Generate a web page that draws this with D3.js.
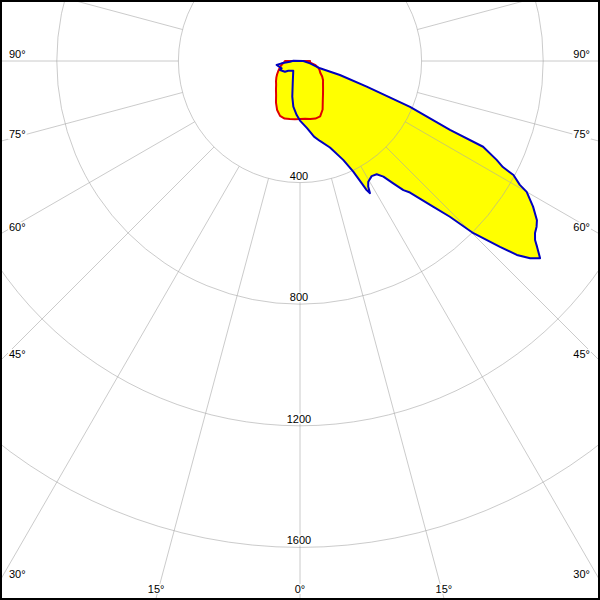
<!DOCTYPE html>
<html><head><meta charset="utf-8">
<script src="https://cdn.jsdelivr.net/npm/d3@7"></script>
<style>html,body{margin:0;padding:0;background:#fff}svg{display:block}</style>
</head><body>
<script>
// ---- data (angle from nadir in degrees, +right / -left ; intensity in cd) ----
const ringValues = [400, 800, 1200, 1600];
const angleTickLabels = [0, 15, 30, 45, 60, 75, 90];

const blueAngles = [-92.6,-86,-82.8,-80.3,-68.3,-65.8,-54.5,-50.3,-34.6,-18.1,-12.2,-8.3,-3.5,0,6.0,10.5,14.0,19.1,23.6,25.7,26.8,27.3,27.9,28.5,29.5,31.9,34.1,35.8,37.3,38.7,39.9,42.4,43.9,45.2,47.1,48.2,49.4,50.6,51.9,52.7,53.8,55.0,56.1,58.0,60.0,60.6,61.9,62.4,63.3,64.9,65.3,67.4,69.0,70.7,70.0,76.8,90];
const blueValues = [22,33,61,78,65,72,61,50,39,77,120,152,178,196,222,253,271,301,355,404,451,478,492,470,456,446,450,469,506,544,564,649,711,804,898,957,997,1022,991,972,958,950,939,904,861,830,796,753,724,665,543,392,235,139,70,34,11];

const redAngles = [-90,-85,-80,-75,-70,-65,-60,-55,-50,-45,-40,-35,-30,-25,-20,-15,-10,-5,0,5,10,15,20,25,30,35,40,45,50,55,60,65,70,75,80,85,90];
const redValues = [49,53,59,66,72,79,87,95,103,111,123,137,158,178,192,196,194,192,191,191,194,196,194,176,150,132,118,107,99,89,77,71,64,53,36,33,33];

// ---- layout ----
const W = 600, H = 600, cx = 300, cy = 61;
const r = d3.scaleLinear().domain([0, 1600]).range([0, 486.4]);
const rad = d => d * Math.PI / 180;

const svg = d3.select("body").append("svg").attr("width", W).attr("height", H)
  .style("font-family", "'Liberation Sans', Arial, sans-serif").style("font-size", "11px");
svg.append("defs").append("clipPath").attr("id", "clip")
  .append("rect").attr("x", 0).attr("y", 0).attr("width", W).attr("height", H - 2);
svg.append("rect").attr("width", W).attr("height", H).attr("fill", "#fff");

const g = svg.append("g").attr("clip-path", "url(#clip)");
const plot = g.append("g").attr("transform", `translate(${cx},${cy})`);

const line = d3.lineRadial()
  .angle(d => Math.PI - rad(d[0]))
  .radius(d => r(d[1]));

const blue = blueAngles.map((a, i) => [a, blueValues[i]]);
const red = redAngles.map((a, i) => [a, redValues[i]]);

// fills
plot.append("path").attr("d", line(blue) + "Z").attr("fill", "#ffff00").attr("stroke", "none");
plot.append("path").attr("d", line(red) + "Z").attr("fill", "#ffff00").attr("stroke", "none");

// grid
const grid = plot.append("g").attr("stroke", "#a8a8a8").attr("stroke-opacity", 0.6).attr("fill", "none");
ringValues.forEach(v => grid.append("circle").attr("r", r(v)));
d3.range(0, 360, 15).forEach(a => {
  const t = rad(a);
  grid.append("line")
    .attr("x1", r(400) * Math.sin(t)).attr("y1", r(400) * Math.cos(t))
    .attr("x2", r(3000) * Math.sin(t)).attr("y2", r(3000) * Math.cos(t));
});

// strokes
plot.append("path").attr("d", line(red) + "Z").attr("fill", "none")
  .attr("stroke", "#e00000").attr("stroke-width", 2).attr("stroke-linejoin", "round");
plot.append("path").attr("d", line(blue) + "Z").attr("fill", "none")
  .attr("stroke", "#0000c0").attr("stroke-width", 2).attr("stroke-linejoin", "round");

// labels with white background
function label(x, y, txt, anchor) {
  const grp = svg.append("g");
  const t = grp.append("text").attr("x", x).attr("y", y).attr("text-anchor", anchor).attr("fill", "#000").text(txt);
  const b = t.node().getBBox();
  grp.insert("rect", "text").attr("x", b.x - 1).attr("y", b.y + 1).attr("width", b.width + 2).attr("height", b.height - 2).attr("fill", "#fff");
}
ringValues.forEach(v => label(cx - 1, cy + r(v) - 3, String(v), "middle"));

const bottomY = H - 2;
angleTickLabels.forEach(a => {
  const sides = a === 0 ? [1] : [-1, 1];
  sides.forEach(s => {
    const t = rad(a * s);
    const dx = Math.sin(t), dy = Math.cos(t);
    let tx = Infinity, ty = Infinity;
    if (dx < -1e-9) tx = (0 - cx) / dx; else if (dx > 1e-9) tx = (W - cx) / dx;
    if (dy > 1e-9) ty = (bottomY - cy) / dy;
    if (tx < ty) {
      const ey = cy + tx * dy;
      if (dx < 0) label(9, ey - 3, a + "°", "start");
      else label(590, ey - 3, a + "°", "end");
    } else {
      const ex = cx + ty * dx;
      label(ex, 593, a + "°", "middle");
    }
  });
});

// frame
svg.append("rect").attr("x", 1).attr("y", 1).attr("width", W - 2).attr("height", H - 2)
  .attr("fill", "none").attr("stroke", "#000").attr("stroke-width", 2);
</script>
</body></html>
